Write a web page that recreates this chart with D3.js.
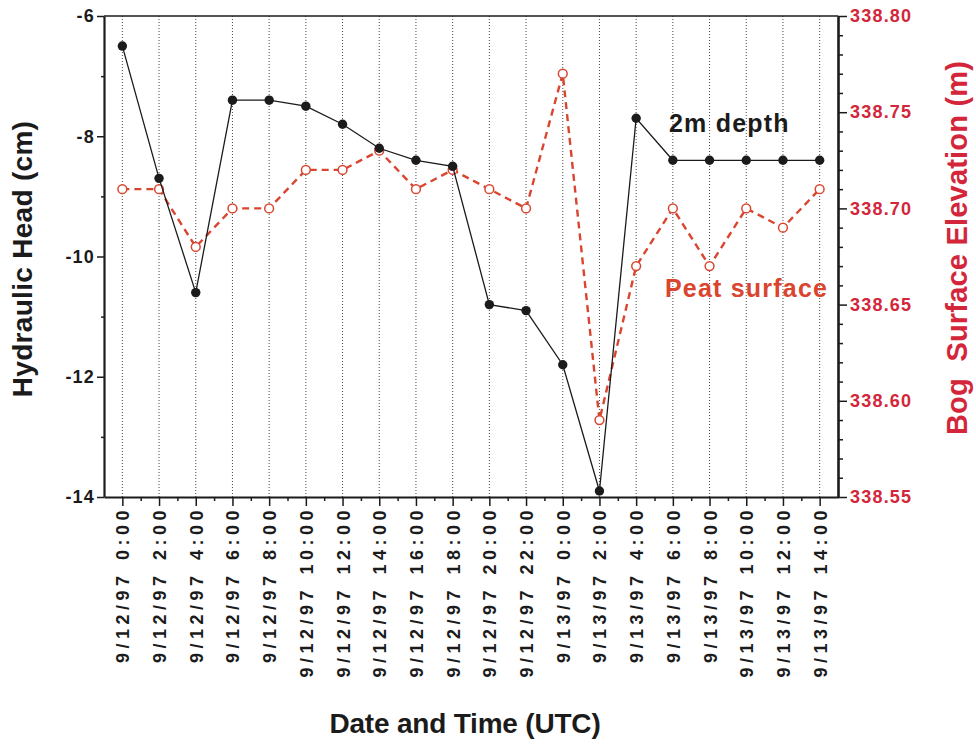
<!DOCTYPE html>
<html>
<head>
<meta charset="utf-8">
<script src="https://cdn.jsdelivr.net/npm/d3@7"></script>
<style>
  html, body { margin: 0; padding: 0; background: #fff; }
  svg { display: block; font-family: "Liberation Sans", Arial, Helvetica, sans-serif; font-weight: bold; }
</style>
</head>
<body>
<svg id="chart" width="976" height="747"></svg>
<script>
// ---- data ----
const times = [
  "9/12/97 0:00", "9/12/97 2:00", "9/12/97 4:00", "9/12/97 6:00", "9/12/97 8:00",
  "9/12/97 10:00", "9/12/97 12:00", "9/12/97 14:00", "9/12/97 16:00", "9/12/97 18:00",
  "9/12/97 20:00", "9/12/97 22:00", "9/13/97 0:00", "9/13/97 2:00", "9/13/97 4:00",
  "9/13/97 6:00", "9/13/97 8:00", "9/13/97 10:00", "9/13/97 12:00", "9/13/97 14:00"
];
const head2m = [-6.5, -8.7, -10.6, -7.4, -7.4, -7.5, -7.8, -8.2, -8.4, -8.5,
                -10.8, -10.9, -11.8, -13.9, -7.7, -8.4, -8.4, -8.4, -8.4, -8.4];
const peatSurface = [338.71, 338.71, 338.68, 338.70, 338.70, 338.72, 338.72, 338.73, 338.71, 338.72,
                     338.71, 338.70, 338.77, 338.59, 338.67, 338.70, 338.67, 338.70, 338.69, 338.71];
const leftTicks = [-6, -8, -10, -12, -14];
const leftMinor = [-7, -9, -11, -13];
const rightTicks = [338.55, 338.60, 338.65, 338.70, 338.75, 338.80];
const rightMinor = [338.56, 338.57, 338.58, 338.59, 338.61, 338.62, 338.63, 338.64,
                    338.66, 338.67, 338.68, 338.69, 338.71, 338.72, 338.73, 338.74,
                    338.76, 338.77, 338.78, 338.79];

// ---- layout ----
const L = 104, R = 838, T = 16, B = 497;
const black = "#1b1b1b", red = "#d9452f", redAxis = "#d3263a";
const FONT = "'Liberation Sans', Arial, sans-serif";

const svg = d3.select("#chart");
const x = d3.scaleLinear().domain([-0.5, times.length - 0.5]).range([L, R]);
const yL = d3.scaleLinear().domain([-14, -6]).range([B, T]);
const yR = d3.scaleLinear().domain([338.55, 338.80]).range([B, T]);

// grid lines (dotted verticals)
svg.append("g").selectAll("line").data(d3.range(times.length)).join("line")
  .attr("x1", d => x(d)).attr("x2", d => x(d)).attr("y1", T).attr("y2", B)
  .attr("stroke", "#333").attr("stroke-width", 0.9).attr("stroke-dasharray", "1,2");

// top border
svg.append("line").attr("x1", L).attr("x2", R).attr("y1", T).attr("y2", T)
  .attr("stroke", black).attr("stroke-width", 1.5);

// bottom axis
const minorX = d3.range(times.length - 1).map(i => i + 0.5);
const gxMinor = svg.append("g").attr("transform", `translate(0,${B})`)
  .call(d3.axisBottom(x).tickValues(minorX).tickSize(4).tickSizeOuter(0).tickFormat(""));
gxMinor.select(".domain").remove();
gxMinor.selectAll("line").attr("stroke", black).attr("stroke-width", 1.5);

const gx = svg.append("g").attr("transform", `translate(0,${B})`)
  .call(d3.axisBottom(x).tickValues(d3.range(times.length)).tickSize(9).tickSizeOuter(0)
        .tickFormat(i => times[i]));
gx.select(".domain").attr("stroke", black).attr("stroke-width", 2.2);
gx.selectAll(".tick line").attr("stroke", black).attr("stroke-width", 1.5);
gx.selectAll(".tick text")
  .attr("transform", "rotate(-90)")
  .attr("text-anchor", "end")
  .attr("x", -9).attr("y", 0).attr("dy", "0.36em")
  .attr("fill", black)
  .style("font-size", "18px").style("font-weight", "bold")
  .style("letter-spacing", "4.5px").style("word-spacing", "2px")
  .style("font-family", FONT);

// left axis
const gyMinor = svg.append("g").attr("transform", `translate(${L},0)`)
  .call(d3.axisLeft(yL).tickValues(leftMinor).tickSize(3).tickFormat(""));
gyMinor.select(".domain").remove();
gyMinor.selectAll("line").attr("stroke", black).attr("stroke-width", 1.5);
const gy = svg.append("g").attr("transform", `translate(${L},0)`)
  .call(d3.axisLeft(yL).tickValues(leftTicks).tickSize(7).tickSizeOuter(0).tickPadding(2)
        .tickFormat(d => String(d)));
gy.select(".domain").attr("stroke", black).attr("stroke-width", 2.2);
gy.selectAll(".tick line").attr("stroke", black).attr("stroke-width", 1.5);
gy.selectAll(".tick text").attr("fill", black)
  .style("font-size", "18px").style("font-weight", "bold").style("letter-spacing", "1.2px")
  .style("font-family", FONT);

// right axis
const grMinor = svg.append("g").attr("transform", `translate(${R},0)`)
  .call(d3.axisRight(yR).tickValues(rightMinor).tickSize(5).tickFormat(""));
grMinor.select(".domain").remove();
grMinor.selectAll("line").attr("stroke", black).attr("stroke-width", 1.5);
const gr = svg.append("g").attr("transform", `translate(${R},0)`)
  .call(d3.axisRight(yR).tickValues(rightTicks).tickSize(9).tickSizeOuter(0).tickPadding(3)
        .tickFormat(d3.format(".2f")));
gr.select(".domain").attr("stroke", black).attr("stroke-width", 2.6);
gr.selectAll(".tick line").attr("stroke", black).attr("stroke-width", 1.5);
gr.selectAll(".tick text").attr("fill", redAxis)
  .style("font-size", "18px").style("font-weight", "bold").style("letter-spacing", "1.2px")
  .style("font-family", FONT);

// peat surface series (red dashed, open circles)
const lineR = d3.line().x((d, i) => x(i)).y(d => yR(d));
svg.append("path").datum(peatSurface).attr("d", lineR)
  .attr("fill", "none").attr("stroke", red).attr("stroke-width", 2.4)
  .attr("stroke-dasharray", "7,5");
svg.append("g").selectAll("circle").data(peatSurface).join("circle")
  .attr("cx", (d, i) => x(i)).attr("cy", d => yR(d)).attr("r", 4.4)
  .attr("fill", "#fff").attr("stroke", red).attr("stroke-width", 1.5);

// 2m depth series (black line, filled circles)
const lineL = d3.line().x((d, i) => x(i)).y(d => yL(d));
svg.append("path").datum(head2m).attr("d", lineL)
  .attr("fill", "none").attr("stroke", black).attr("stroke-width", 1.3);
svg.append("g").selectAll("circle").data(head2m).join("circle")
  .attr("cx", (d, i) => x(i)).attr("cy", d => yL(d)).attr("r", 4.7)
  .attr("fill", black);

// series labels
svg.append("text").attr("x", 669).attr("y", 132).text("2m depth")
  .attr("fill", black).style("font-size", "25px").style("letter-spacing", "1.2px");
svg.append("text").attr("x", 665).attr("y", 297).text("Peat surface")
  .attr("fill", red).style("font-size", "25px").style("letter-spacing", "1.2px");

// axis titles
svg.append("text").attr("transform", "translate(32,259) rotate(-90)")
  .attr("text-anchor", "middle").text("Hydraulic Head (cm)")
  .attr("fill", black).style("font-size", "28px").style("letter-spacing", "0.3px");
svg.append("text").attr("transform", "translate(967,248) rotate(-90)")
  .attr("text-anchor", "middle").text("Bog\u00a0 Surface Elevation (m)")
  .attr("fill", redAxis).style("font-size", "29px").style("letter-spacing", "0.2px");
svg.append("text").attr("x", 465).attr("y", 733)
  .attr("text-anchor", "middle").text("Date and Time (UTC)")
  .attr("fill", black).style("font-size", "28px").style("letter-spacing", "-0.2px");
</script>
</body>
</html>
